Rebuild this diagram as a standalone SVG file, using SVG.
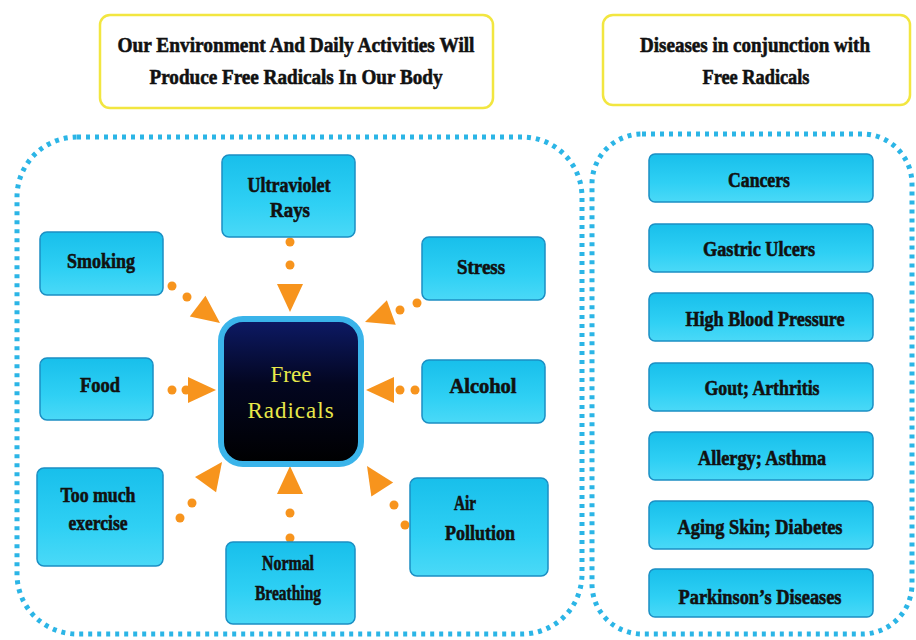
<svg xmlns="http://www.w3.org/2000/svg" width="916" height="640" viewBox="0 0 916 640" font-family="Liberation Serif, DejaVu Serif, serif">
<style>
.title{fill:#fff;stroke:#f2e640;stroke-width:2.5}
.box{fill:url(#cy);stroke:#1b8fc4;stroke-width:1.5}
.cont{fill:none;stroke:#2bb5e6;stroke-width:5;stroke-dasharray:4 5}
.t{font-weight:bold;font-size:21px;fill:#111;text-anchor:middle;stroke:#111;stroke-width:0.6}
.h{font-weight:bold;font-size:22px;fill:#111;text-anchor:middle;stroke:#111;stroke-width:0.6}
.fr{font-size:23px;fill:#e8e84a;text-anchor:middle}
.dot{fill:#f7941d}
.ah{fill:#f7941d}
</style>
<defs>
<linearGradient id="cy" x1="0" y1="0" x2="0" y2="1">
<stop offset="0" stop-color="#18bfeb"/>
<stop offset="0.6" stop-color="#2fd0f4"/>
<stop offset="1" stop-color="#4ad9f7"/>
</linearGradient>
<linearGradient id="dk" x1="0" y1="0" x2="0" y2="1">
<stop offset="0" stop-color="#0d1a66"/>
<stop offset="0.45" stop-color="#030620"/>
<stop offset="1" stop-color="#000"/>
</linearGradient>
<polygon id="head" points="0,0 -28,-13 -28,13"/>
</defs>
<rect width="916" height="640" fill="#fff"/>

<g id="title-left">
<rect class="title" x="100" y="15" width="393" height="93" rx="10"/>
<text class="h" x="296" y="52" textLength="357" lengthAdjust="spacingAndGlyphs">Our Environment And Daily Activities Will</text>
<text class="h" x="296" y="84" textLength="293" lengthAdjust="spacingAndGlyphs">Produce Free Radicals In Our Body</text>
</g>
<g id="title-right">
<rect class="title" x="603" y="15" width="307" height="90" rx="10"/>
<text class="h" x="755" y="52" textLength="230" lengthAdjust="spacingAndGlyphs">Diseases in conjunction with</text>
<text class="h" x="756" y="84" textLength="107" lengthAdjust="spacingAndGlyphs">Free Radicals</text>
</g>

<g id="container-left"><rect class="cont" x="17" y="137" width="565" height="497" rx="60"/></g>
<g id="container-right"><rect class="cont" x="592" y="134" width="320" height="500" rx="50"/></g>

<g id="connectors">
<circle class="dot" cx="290" cy="242" r="4.5"/><circle class="dot" cx="290" cy="265" r="4.5"/>
<use href="#head" class="ah" transform="translate(290,312) rotate(90)"/>
<circle class="dot" cx="172" cy="286" r="4.5"/><circle class="dot" cx="187" cy="297" r="4.5"/>
<use href="#head" class="ah" transform="translate(220,323) rotate(37)"/>
<circle class="dot" cx="417" cy="303" r="4.5"/><circle class="dot" cx="400" cy="310" r="4.5"/>
<use href="#head" class="ah" transform="translate(365,322) rotate(160)"/>
<circle class="dot" cx="172" cy="390" r="4.5"/><circle class="dot" cx="186" cy="390" r="4.5"/>
<use href="#head" class="ah" transform="translate(216,390)"/>
<circle class="dot" cx="415" cy="390" r="4.5"/><circle class="dot" cx="400" cy="390" r="4.5"/>
<use href="#head" class="ah" transform="translate(366,390) rotate(180)"/>
<circle class="dot" cx="180" cy="518" r="4.5"/><circle class="dot" cx="192" cy="503" r="4.5"/>
<use href="#head" class="ah" transform="translate(222,462) rotate(-54)"/>
<circle class="dot" cx="290" cy="538" r="4.5"/><circle class="dot" cx="290" cy="513" r="4.5"/>
<use href="#head" class="ah" transform="translate(290,466) rotate(-90)"/>
<circle class="dot" cx="405" cy="525" r="4.5"/><circle class="dot" cx="394" cy="505" r="4.5"/>
<use href="#head" class="ah" transform="translate(367,466) rotate(-123)"/>
</g>

<g id="free-radicals">
<rect x="221" y="319" width="140" height="145" rx="22" fill="url(#dk)" stroke="#3ab4ea" stroke-width="6"/>
<text class="fr" x="291" y="382">Free</text>
<text class="fr" x="291" y="418" letter-spacing="1">Radicals</text>
</g>

<g id="ultraviolet">
<rect class="box" x="222" y="155" width="133" height="82" rx="7"/>
<text class="t" x="289" y="192" textLength="83" lengthAdjust="spacingAndGlyphs">Ultraviolet</text>
<text class="t" x="290" y="217" textLength="40" lengthAdjust="spacingAndGlyphs">Rays</text>
</g>
<g id="smoking">
<rect class="box" x="40" y="232" width="123" height="63" rx="7"/>
<text class="t" x="101" y="268" textLength="68" lengthAdjust="spacingAndGlyphs">Smoking</text>
</g>
<g id="stress">
<rect class="box" x="422" y="237" width="123" height="63" rx="7"/>
<text class="t" x="481" y="274" textLength="48" lengthAdjust="spacingAndGlyphs">Stress</text>
</g>
<g id="food">
<rect class="box" x="40" y="358" width="113" height="62" rx="7"/>
<text class="t" x="100" y="392" textLength="40" lengthAdjust="spacingAndGlyphs">Food</text>
</g>
<g id="alcohol">
<rect class="box" x="422" y="360" width="123" height="63" rx="7"/>
<text class="t" x="483" y="393" textLength="67" lengthAdjust="spacingAndGlyphs">Alcohol</text>
</g>
<g id="exercise">
<rect class="box" x="37" y="468" width="126" height="98" rx="7"/>
<text class="t" x="98" y="502" textLength="75" lengthAdjust="spacingAndGlyphs">Too much</text>
<text class="t" x="98" y="530" textLength="59" lengthAdjust="spacingAndGlyphs">exercise</text>
</g>
<g id="air-pollution">
<rect class="box" x="410" y="478" width="138" height="98" rx="7"/>
<text class="t" x="465" y="510" textLength="22" lengthAdjust="spacingAndGlyphs">Air</text>
<text class="t" x="480" y="540" textLength="70" lengthAdjust="spacingAndGlyphs">Pollution</text>
</g>
<g id="normal-breathing">
<rect class="box" x="226" y="542" width="129" height="82" rx="7"/>
<text class="t" x="288" y="570" textLength="52" lengthAdjust="spacingAndGlyphs">Normal</text>
<text class="t" x="288" y="600" textLength="66" lengthAdjust="spacingAndGlyphs">Breathing</text>
</g>

<g id="cancers">
<rect class="box" x="649" y="154" width="224" height="48" rx="6"/>
<text class="t" x="759" y="187" textLength="62" lengthAdjust="spacingAndGlyphs">Cancers</text>
</g>
<g id="gastric-ulcers">
<rect class="box" x="649" y="224" width="224" height="48" rx="6"/>
<text class="t" x="759" y="256" textLength="112" lengthAdjust="spacingAndGlyphs">Gastric Ulcers</text>
</g>
<g id="high-blood-pressure">
<rect class="box" x="649" y="293" width="224" height="48" rx="6"/>
<text class="t" x="765" y="326" textLength="159" lengthAdjust="spacingAndGlyphs">High Blood Pressure</text>
</g>
<g id="gout-arthritis">
<rect class="box" x="649" y="363" width="224" height="48" rx="6"/>
<text class="t" x="762" y="395" textLength="115" lengthAdjust="spacingAndGlyphs">Gout; Arthritis</text>
</g>
<g id="allergy-asthma">
<rect class="box" x="649" y="432" width="224" height="48" rx="6"/>
<text class="t" x="762" y="465" textLength="128" lengthAdjust="spacingAndGlyphs">Allergy; Asthma</text>
</g>
<g id="aging-diabetes">
<rect class="box" x="649" y="501" width="224" height="48" rx="6"/>
<text class="t" x="760" y="534" textLength="165" lengthAdjust="spacingAndGlyphs">Aging Skin; Diabetes</text>
</g>
<g id="parkinsons">
<rect class="box" x="649" y="569" width="224" height="48" rx="6"/>
<text class="t" x="760" y="604" textLength="163" lengthAdjust="spacingAndGlyphs">Parkinson’s Diseases</text>
</g>
</svg>
